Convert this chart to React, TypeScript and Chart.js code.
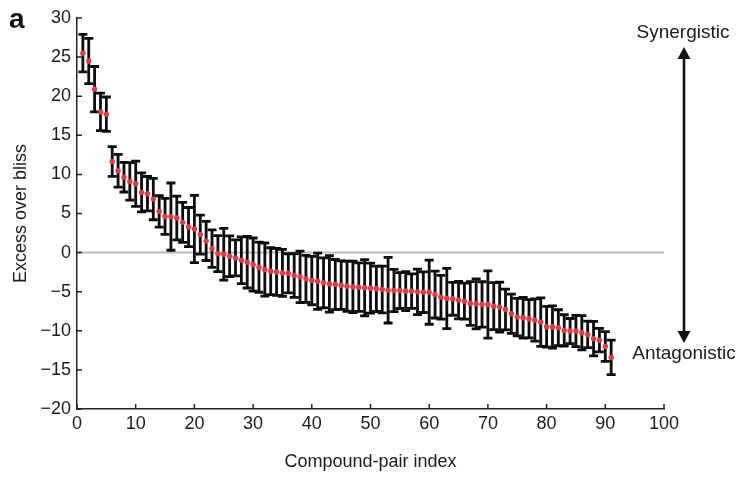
import { useEffect, useRef } from 'react';
import { Chart, registerables } from 'chart.js';

Chart.register(...registerables);

const pairIndex = [
  1, 2, 3, 4, 5, 6, 7, 8, 9, 10, 11, 12, 13, 14, 15, 16, 17, 18, 19, 20,
  21, 22, 23, 24, 25, 26, 27, 28, 29, 30, 31, 32, 33, 34, 35, 36, 37, 38, 39, 40,
  41, 42, 43, 44, 45, 46, 47, 48, 49, 50, 51, 52, 53, 54, 55, 56, 57, 58, 59, 60,
  61, 62, 63, 64, 65, 66, 67, 68, 69, 70, 71, 72, 73, 74, 75, 76, 77, 78, 79, 80,
  81, 82, 83, 84, 85, 86, 87, 88, 89, 90, 91,
];

const excessMean = [
  25.5, 24.5, 20.9, 18.0, 17.7, 11.65, 10.46, 9.65, 9.1, 8.8,
  7.7, 7.53, 6.85, 5.27, 4.63, 4.6, 4.42, 3.87, 3.27, 3.02,
  2.3, 1.49, 0.51, -0.13, -0.21, -0.47, -0.68, -0.98, -1.23, -1.53,
  -1.87, -2.17, -2.38, -2.47, -2.6, -2.65, -2.93, -3.1, -3.36, -3.57,
  -3.66, -3.87, -4.0, -4.08, -4.17, -4.3, -4.38, -4.42, -4.5, -4.55,
  -4.63, -4.72, -4.8, -4.85, -4.85, -4.93, -4.93, -5.02, -5.06, -5.06,
  -5.36, -5.7, -5.87, -5.91, -6.08, -6.2, -6.5, -6.55, -6.63, -6.63,
  -6.85, -6.97, -7.27, -7.82, -8.25, -8.33, -8.46, -8.63, -8.89, -9.48,
  -9.52, -9.61, -9.95, -10.03, -10.03, -10.25, -10.46, -11.0, -11.2, -12.0,
  -13.4,
];

const excessError = [
  2.4, 2.9, 2.9, 2.4, 2.2, 1.9, 2.1, 1.9, 2.4, 2.9,
  2.5, 2.2, 2.65, 2.0, 2.3, 4.3, 2.8, 2.55, 2.5, 4.3,
  2.5, 2.5, 2.4, 2.3, 3.3, 2.6, 2.3, 3.0, 3.3, 3.4,
  3.2, 3.4, 3.0, 3.0, 3.0, 2.5, 2.8, 3.3, 3.0, 3.1,
  3.6, 3.2, 3.6, 3.2, 3.1, 3.2, 3.3, 3.1, 3.6, 3.2,
  2.9, 3.0, 4.2, 2.7, 2.3, 2.5, 2.2, 2.9, 2.6, 4.1,
  3.0, 2.8, 3.85, 2.1, 2.4, 2.3, 2.8, 3.2, 2.9, 4.3,
  3.0, 3.2, 2.6, 2.5, 2.4, 2.6, 2.45, 2.7, 3.1, 2.6,
  2.7, 2.3, 2.0, 1.6, 2.0, 2.2, 1.7, 2.2, 1.5, 1.9,
  2.2,
];

const xTicks = [0, 10, 20, 30, 40, 50, 60, 70, 80, 90, 100];
const yTicks = [-20, -15, -10, -5, 0, 5, 10, 15, 20, 25, 30];

const xTitle = 'Compound-pair index';
const yTitle = 'Excess over bliss';
const topLabel = 'Synergistic';
const bottomLabel = 'Antagonistic';
const panelLabel = 'a';

const FONT = '"Liberation Sans", Arial, Helvetica, sans-serif';

const errorBarPlugin = {
  id: 'errorBarPlugin',
  beforeDatasetsDraw(chart: any) {
    const { ctx, scales } = chart;
    const x = scales.x;
    const y = scales.y;
    ctx.save();
    // zero reference line
    const y0 = y.getPixelForValue(0);
    ctx.strokeStyle = '#b9b9b9';
    ctx.lineWidth = 2;
    ctx.beginPath();
    ctx.moveTo(x.left, y0);
    ctx.lineTo(x.right, y0);
    ctx.stroke();
    // error bars
    ctx.strokeStyle = '#0d0d0d';
    ctx.lineWidth = 2.8;
    ctx.lineCap = 'butt';
    const cap = 4.5;
    pairIndex.forEach((idx, i) => {
      const px = x.getPixelForValue(idx);
      const top = y.getPixelForValue(excessMean[i] + excessError[i]);
      const bot = y.getPixelForValue(excessMean[i] - excessError[i]);
      ctx.beginPath();
      ctx.moveTo(px, top);
      ctx.lineTo(px, bot);
      ctx.moveTo(px - cap, top);
      ctx.lineTo(px + cap, top);
      ctx.moveTo(px - cap, bot);
      ctx.lineTo(px + cap, bot);
      ctx.stroke();
    });
    ctx.restore();
  },
  afterDraw(chart: any) {
    const { ctx, scales } = chart;
    const x = scales.x;
    const y = scales.y;
    ctx.save();
    // inward ticks
    ctx.strokeStyle = '#222';
    ctx.lineWidth = 1.5;
    ctx.beginPath();
    yTicks.forEach((v) => {
      const py = y.getPixelForValue(v);
      ctx.moveTo(x.left, py);
      ctx.lineTo(x.left + 5, py);
    });
    xTicks.forEach((v) => {
      const px = x.getPixelForValue(v);
      ctx.moveTo(px, y.bottom);
      ctx.lineTo(px, y.bottom - 5);
    });
    ctx.stroke();

    // panel label
    ctx.fillStyle = '#111';
    ctx.font = `bold 28px ${FONT}`;
    ctx.textAlign = 'left';
    ctx.textBaseline = 'alphabetic';
    ctx.fillText(panelLabel, 9, 28);

    // right-side annotation
    const ax = 684;
    const aTop = 47;
    const aBot = 343;
    const head = 12;
    const hw = 6.5;
    ctx.font = `19px ${FONT}`;
    ctx.textAlign = 'center';
    ctx.textBaseline = 'middle';
    ctx.fillStyle = '#1a1a1a';
    ctx.fillText(topLabel, 683, 33);
    ctx.fillText(bottomLabel, 684, 354);

    ctx.strokeStyle = '#111';
    ctx.lineWidth = 2.6;
    ctx.beginPath();
    ctx.moveTo(ax, aTop + head - 1);
    ctx.lineTo(ax, aBot - head + 1);
    ctx.stroke();
    ctx.fillStyle = '#111';
    ctx.beginPath();
    ctx.moveTo(ax, aTop);
    ctx.lineTo(ax - hw, aTop + head);
    ctx.lineTo(ax + hw, aTop + head);
    ctx.closePath();
    ctx.fill();
    ctx.beginPath();
    ctx.moveTo(ax, aBot);
    ctx.lineTo(ax - hw, aBot - head);
    ctx.lineTo(ax + hw, aBot - head);
    ctx.closePath();
    ctx.fill();
    ctx.restore();
  },
};

export default function App() {
  const canvasRef = useRef<HTMLCanvasElement | null>(null);

  useEffect(() => {
    if (!canvasRef.current) return;
    const points = pairIndex.map((idx, i) => ({ x: idx, y: excessMean[i] }));
    const chart = new Chart(canvasRef.current, {
      type: 'scatter',
      data: {
        datasets: [
          {
            label: 'Excess over bliss',
            data: points,
            pointRadius: 2.7,
            pointBackgroundColor: '#e63a44',
            pointBorderWidth: 0,
            pointBorderColor: '#e63a44',
            showLine: false,
          },
        ],
      },
      options: {
        animation: false,
        responsive: false,
        events: [],
        layout: { padding: { left: 0, top: 18, right: 87, bottom: 0 } },
        plugins: {
          legend: { display: false },
          tooltip: { enabled: false },
        },
        scales: {
          x: {
            type: 'linear',
            min: 0,
            max: 100,
            afterBuildTicks: (s: any) => {
              s.ticks = xTicks.map((v) => ({ value: v }));
            },
            afterFit: (s: any) => {
              s.height = 68;
            },
            grid: { display: false, drawTicks: false },
            border: { display: true, color: '#222', width: 1.5 },
            ticks: {
              padding: 4,
              color: '#1a1a1a',
              font: { family: FONT, size: 18 },
              maxRotation: 0,
              autoSkip: false,
            },
            title: {
              display: true,
              text: xTitle,
              color: '#1a1a1a',
              font: { family: FONT, size: 18 },
              padding: { top: 0, bottom: 4 },
            },
          },
          y: {
            type: 'linear',
            min: -20,
            max: 30,
            afterBuildTicks: (s: any) => {
              s.ticks = yTicks.map((v) => ({ value: v }));
            },
            afterFit: (s: any) => {
              s.width = 77;
            },
            grid: { display: false, drawTicks: false },
            border: { display: true, color: '#222', width: 1.5 },
            ticks: {
              padding: 6,
              color: '#1a1a1a',
              font: { family: FONT, size: 18 },
              autoSkip: false,
              callback: (v: any) => String(v).replace('-', '\u2212'),
            },
            title: {
              display: true,
              text: yTitle,
              color: '#1a1a1a',
              font: { family: FONT, size: 18 },
              padding: { top: 10, bottom: 0 },
            },
          },
        },
      },
      plugins: [errorBarPlugin],
    });
    return () => chart.destroy();
  }, []);

  return (
    <div style={{ position: 'absolute', left: 0, top: 0, width: 751, height: 477, background: '#fff' }}>
      <canvas ref={canvasRef} width={751} height={477} style={{ display: 'block' }} />
    </div>
  );
}
